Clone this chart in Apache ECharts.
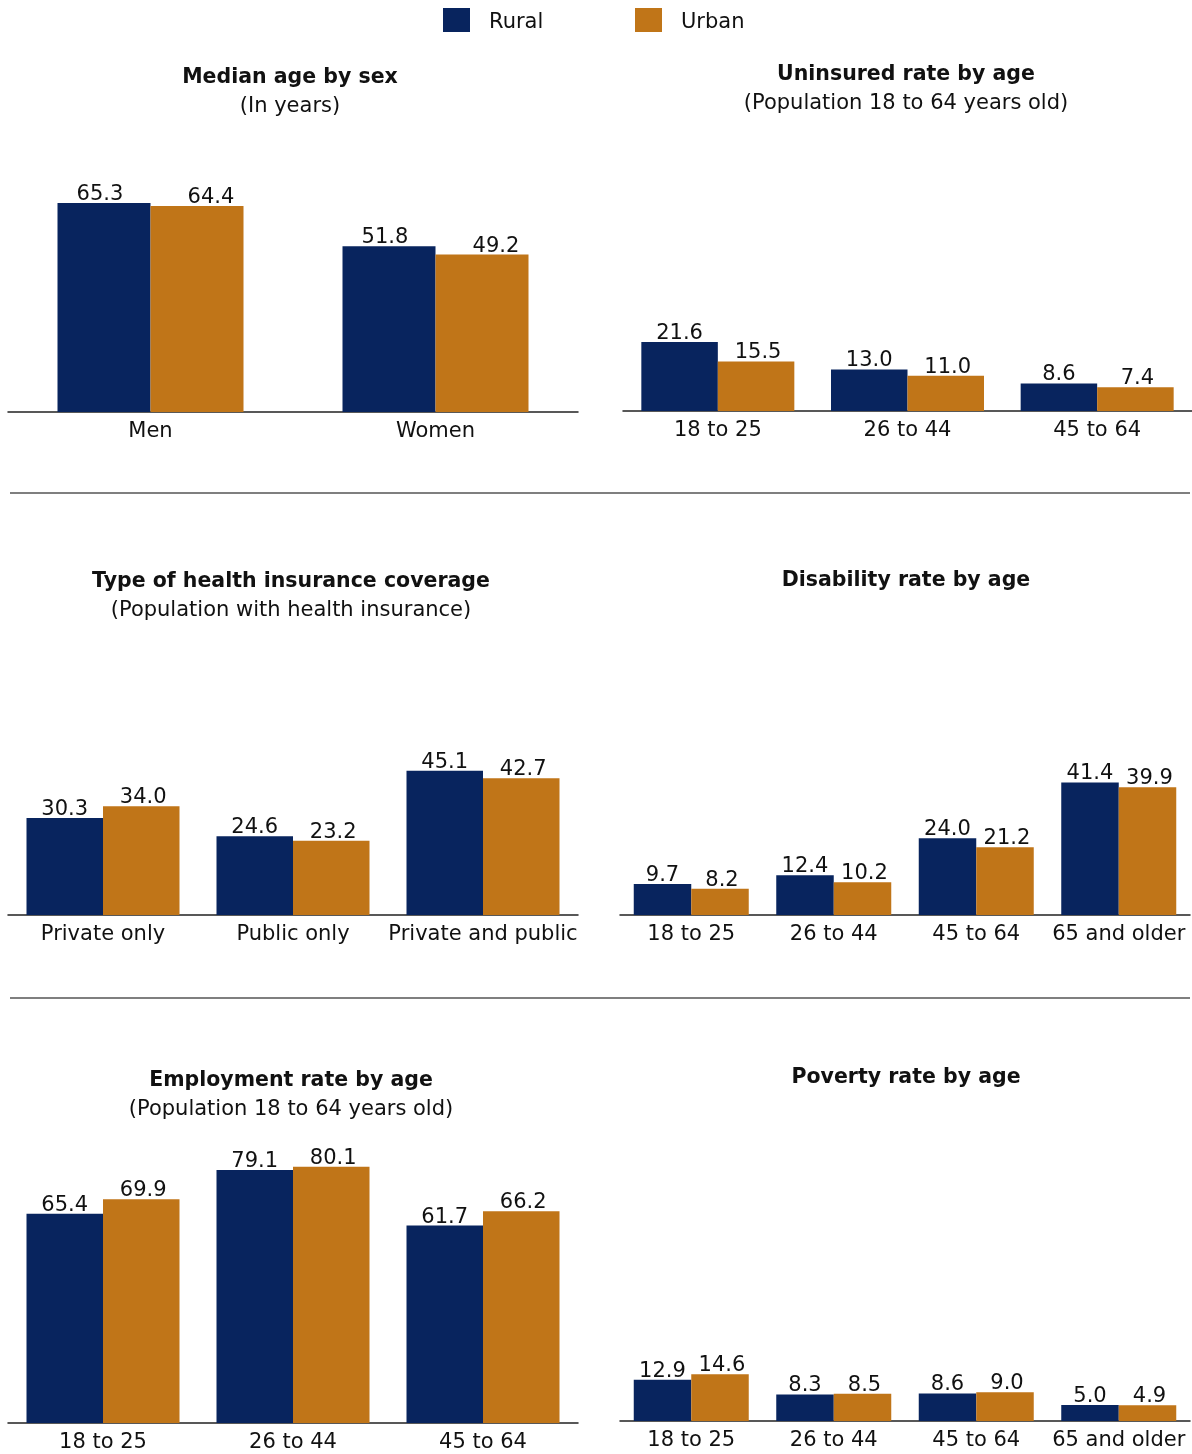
<!DOCTYPE html>
<html>
<head>
<meta charset="utf-8">
<script src="https://cdn.jsdelivr.net/npm/echarts@6/dist/echarts.min.js"></script>
<style>
html,body{margin:0;padding:0;background:#fff;}
#chart{width:1192px;height:1454px;}
</style>
</head>
<body>
<div id="chart"></div>
<script>
// ---- Data ----
const medianCats = ['Men', 'Women'];
const medianRural = [65.3, 51.8];
const medianUrban = [64.4, 49.2];

const uninsCats = ['18 to 25', '26 to 44', '45 to 64'];
const uninsRural = [21.6, 13.0, 8.6];
const uninsUrban = [15.5, 11.0, 7.4];

const covCats = ['Private only', 'Public only', 'Private and public'];
const covRural = [30.3, 24.6, 45.1];
const covUrban = [34.0, 23.2, 42.7];

const disCats = ['18 to 25', '26 to 44', '45 to 64', '65 and older'];
const disRural = [9.7, 12.4, 24.0, 41.4];
const disUrban = [8.2, 10.2, 21.2, 39.9];

const empCats = ['18 to 25', '26 to 44', '45 to 64'];
const empRural = [65.4, 79.1, 61.7];
const empUrban = [69.9, 80.1, 66.2];

const povCats = ['18 to 25', '26 to 44', '45 to 64', '65 and older'];
const povRural = [12.9, 8.3, 8.6, 5.0];
const povUrban = [14.6, 8.5, 9.0, 4.9];

const panelTitles = [
  ['Median age by sex', '(In years)'],
  ['Uninsured rate by age', '(Population 18 to 64 years old)'],
  ['Type of health insurance coverage', '(Population with health insurance)'],
  ['Disability rate by age', ''],
  ['Employment rate by age', '(Population 18 to 64 years old)'],
  ['Poverty rate by age', '']
];

// ---- Styling / layout ----
const FONT = 'DejaVu Sans';
const FS = 21;
const RURAL_COLOR = '#08245e';
const URBAN_COLOR = '#c07518';
const TEXT_COLOR = '#111';

const panels = [
  {cats: medianCats, rural: medianRural, urban: medianUrban, left: 8,   width: 570, top: 92,   barWidth: 93,   rOff: -4, uOff: 14},
  {cats: uninsCats,  rural: uninsRural,  urban: uninsUrban,  left: 623, width: 570, top: 91,   barWidth: 76.5, rOff: 0,  uOff: 2},
  {cats: covCats,    rural: covRural,    urban: covUrban,    left: 8,   width: 570, top: 595,  barWidth: 76.5, rOff: 0,  uOff: 2},
  {cats: disCats,    rural: disRural,    urban: disUrban,    left: 620, width: 570, top: 595,  barWidth: 57.5, rOff: 0,  uOff: 2},
  {cats: empCats,    rural: empRural,    urban: empUrban,    left: 8,   width: 570, top: 1103, barWidth: 76.5, rOff: 0,  uOff: 2},
  {cats: povCats,    rural: povRural,    urban: povUrban,    left: 620, width: 570, top: 1101, barWidth: 57.5, rOff: 0,  uOff: 2}
];
const titlePos = [
  {x: 290, y: 67}, {x: 906, y: 64},
  {x: 291, y: 571}, {x: 906, y: 570},
  {x: 291, y: 1070}, {x: 906, y: 1067}
];

const grids = [], xAxes = [], yAxes = [], series = [], titles = [];
panels.forEach((p, i) => {
  grids.push({left: p.left, top: p.top, width: p.width, height: 320, containLabel: false});
  xAxes.push({
    type: 'category', gridIndex: i, data: p.cats,
    axisLine: {lineStyle: {color: '#222', width: 1.5}},
    axisTick: {show: false},
    axisLabel: {fontFamily: FONT, fontSize: FS, color: TEXT_COLOR, margin: 9, interval: 0}
  });
  yAxes.push({type: 'value', gridIndex: i, min: 0, max: 100, show: false, splitLine: {show: false}});
  const lbl = (off) => ({
    show: true, position: 'top', distance: -2, offset: [off, 0],
    fontFamily: FONT, fontSize: FS, color: TEXT_COLOR,
    formatter: (d) => d.value.toFixed(1)
  });
  series.push({name: 'Rural', type: 'bar', xAxisIndex: i, yAxisIndex: i, data: p.rural,
    barWidth: p.barWidth, barGap: '0%', itemStyle: {color: RURAL_COLOR}, label: lbl(p.rOff), animation: false});
  series.push({name: 'Urban', type: 'bar', xAxisIndex: i, yAxisIndex: i, data: p.urban,
    barWidth: p.barWidth, barGap: '0%', itemStyle: {color: URBAN_COLOR}, label: lbl(p.uOff), animation: false});
  titles.push({
    text: panelTitles[i][0], subtext: panelTitles[i][1],
    left: titlePos[i].x, top: titlePos[i].y, textAlign: 'center', itemGap: 8, padding: 0,
    textStyle: {fontFamily: FONT, fontSize: 20.5, fontWeight: 'bold', color: TEXT_COLOR},
    subtextStyle: {fontFamily: FONT, fontSize: FS, color: TEXT_COLOR}
  });
});

const legendText = {
  fontFamily: FONT, fontSize: FS, color: TEXT_COLOR, padding: [0, 0, 0, 14],
  rich: {t: {fontFamily: FONT, fontSize: FS, color: TEXT_COLOR, padding: [6, 0, 0, 0]}}
};

const chart = echarts.init(document.getElementById('chart'));
chart.setOption({
  animation: false,
  backgroundColor: '#fff',
  title: titles,
  legend: [
    {data: ['Rural'], left: 443, top: 8, itemWidth: 27, itemHeight: 24, itemGap: 0, padding: 0,
     icon: 'rect', formatter: '{t|{name}}', textStyle: legendText},
    {data: ['Urban'], left: 635, top: 8, itemWidth: 27, itemHeight: 24, itemGap: 0, padding: 0,
     icon: 'rect', formatter: '{t|{name}}', textStyle: legendText}
  ],
  grid: grids,
  xAxis: xAxes,
  yAxis: yAxes,
  series: series,
  graphic: [
    {type: 'line', shape: {x1: 10, y1: 493, x2: 1190, y2: 493}, style: {stroke: '#555', lineWidth: 1.5}},
    {type: 'line', shape: {x1: 10, y1: 998, x2: 1190, y2: 998}, style: {stroke: '#555', lineWidth: 1.5}}
  ]
});
</script>
</body>
</html>
